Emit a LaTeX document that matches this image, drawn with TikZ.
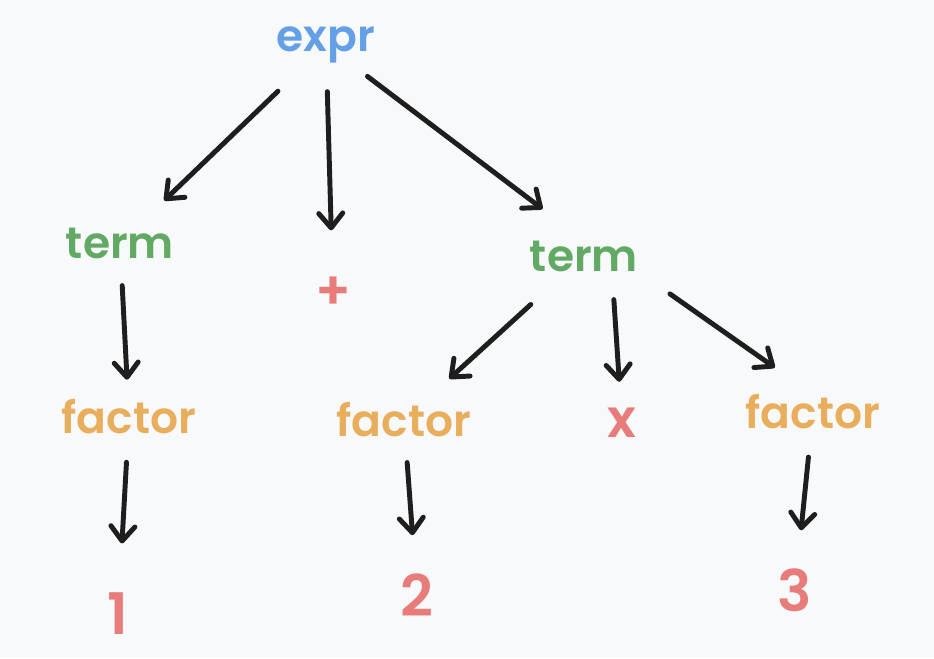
\documentclass[tikz,border=0pt]{standalone}
\usepackage{fontspec}
\setmainfont{Poppins}[UprightFont={* SemiBold}]
\usepackage{tikz}
\usetikzlibrary{arrows.meta}

\definecolor{bgpaper}{HTML}{F8F9FB}
\definecolor{exprblue}{HTML}{64A0E8}
\definecolor{termgreen}{HTML}{62AA64}
\definecolor{factororange}{HTML}{E9AE5C}
\definecolor{leafred}{HTML}{E87C7B}
\definecolor{inkblack}{HTML}{1E1E1E}

\tikzset{
  word/.style={inner sep=0pt, font=\fontsize{33}{40}\selectfont},
  sign/.style={inner sep=0pt, font=\fontsize{40}{46}\selectfont, text=leafred},
  digit/.style={inner sep=0pt, font=\fontsize{43}{50}\selectfont, text=leafred},
  treearrow/.style={draw=inkblack, line width=3.7pt, line cap=round, line join=round,
    -{Straight Barb[length=11pt,width=18pt,line cap=round,line join=round]}},
}

\begin{document}
\begin{tikzpicture}[x=0.75pt,y=0.75pt,yscale=-1,xscale=1]
    %set diagram to the size of the reference
    \fill[bgpaper] (0,0) rectangle (934,658);
    \useasboundingbox (0,0) rectangle (934,658);

    % Text Node
    \node[word, text=exprblue] (expr) at (326,45) {expr};
    % Text Node
    \node[word, text=termgreen] (term1) at (120,243) {term};
    % Text Node
    \node[sign] (plus) at (333,293) {+};
    % Text Node
    \node[word, text=termgreen] (term2) at (584,256) {term};
    % Text Node
    \node[word, text=factororange] (factor1) at (129,417) {factor};
    % Text Node
    \node[word, text=factororange] (factor2) at (404,420) {factor};
    % Text Node
    \node[sign] (times) at (622,423) {x};
    % Text Node
    \node[word, text=factororange] (factor3) at (813,412) {factor};
    % Text Node
    \node[digit] (one) at (118,614) {1};
    % Text Node
    \node[digit] (two) at (417,595) {2};
    % Text Node
    \node[digit] (three) at (795,590) {3};

    %Straight Lines
    \draw[treearrow, shorten <=50pt, shorten >=46pt] (expr.center) -- (term1.center);
    \draw[treearrow, shorten <=35pt, shorten >=47pt] (expr.center) -- (plus.center);
    \draw[treearrow, shorten <=39pt, shorten >=39pt] (expr.center) -- (term2.north);
    \draw[treearrow, shorten <=32pt, shorten >=28pt] (term1.center) -- (factor1.center);
    \draw[treearrow, shorten <=54pt, shorten >=46pt] (term2.center) -- (factor2.center);
    \draw[treearrow, shorten <=21pt, shorten >=31pt] ([xshift=21pt]term2.south) -- (times.center);
    \draw[treearrow, shorten <=29pt, shorten >=35pt] (term2.south east) -- (factor3.north);
    \draw[treearrow, shorten <=34pt, shorten >=53pt] (factor1.center) -- (one.center);
    \draw[treearrow, shorten <=32pt, shorten >=45pt] (factor2.center) -- (two.center);
    \draw[treearrow, shorten <=34pt, shorten >=45pt] (factor3.center) -- (three.center);

\end{tikzpicture}
\end{document}
